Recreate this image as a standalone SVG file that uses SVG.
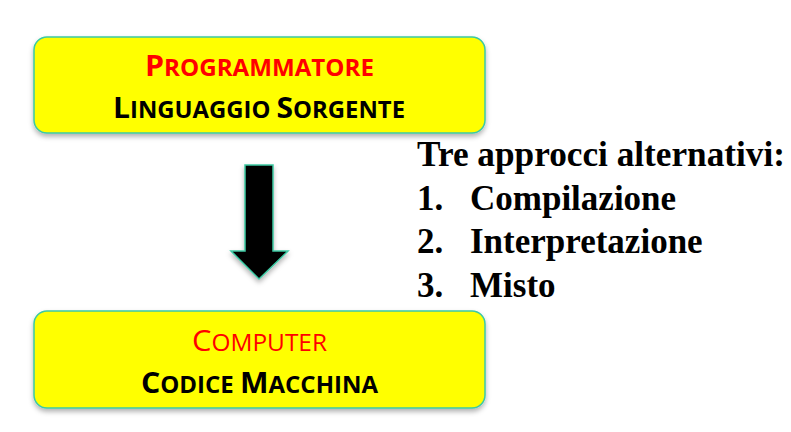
<svg xmlns="http://www.w3.org/2000/svg" width="791" height="432" viewBox="0 0 791 432">
  <style>
    .box { fill: #ffff00; stroke: #3cc9a3; stroke-width: 1.5; }
    .cap { font-family: "Open Sans", "Liberation Sans", sans-serif; }
    .red { fill: #ff0000; }
    .blk { fill: #000000; }
    .list { font-family: "Liberation Serif", "Times New Roman", serif; font-weight: bold; font-size: 35px; fill: #000; }
  </style>
  <defs>
    <filter id="sh" x="-10%" y="-20%" width="120%" height="150%">
      <feDropShadow dx="0" dy="3" stdDeviation="2.5" flood-color="#000" flood-opacity="0.3"/>
    </filter>
  </defs>

  <g id="node-programmatore">
    <rect class="box" x="34" y="37" width="451" height="96" rx="13" filter="url(#sh)"/>
    <text class="cap red" x="145" y="76" font-weight="bold" textLength="229" lengthAdjust="spacingAndGlyphs"><tspan font-size="29">P</tspan><tspan font-size="23">ROGRAMMATORE</tspan></text>
    <text class="cap blk" x="113" y="118" font-weight="bold" textLength="292" lengthAdjust="spacingAndGlyphs"><tspan font-size="29">L</tspan><tspan font-size="23">INGUAGGIO </tspan><tspan font-size="29">S</tspan><tspan font-size="23">ORGENTE</tspan></text>
  </g>

  <g id="node-computer">
    <rect class="box" x="34" y="311" width="451" height="97" rx="13" filter="url(#sh)"/>
    <text class="cap red" x="192" y="351" textLength="135" lengthAdjust="spacingAndGlyphs"><tspan font-size="29">C</tspan><tspan font-size="23">OMPUTER</tspan></text>
    <text class="cap blk" x="141" y="393" font-weight="bold" textLength="237" lengthAdjust="spacingAndGlyphs"><tspan font-size="29">C</tspan><tspan font-size="23">ODICE </tspan><tspan font-size="29">M</tspan><tspan font-size="23">ACCHINA</tspan></text>
  </g>

  <g id="connectors">
    <polygon points="245,165 273,165 273,251 288,251 259,279 231,251 245,251" fill="#000" stroke="#3cc9a3" stroke-width="1.5" filter="url(#sh)"/>
  </g>

  <g id="text-list">
    <text class="list" x="417" y="166" textLength="368" lengthAdjust="spacingAndGlyphs">Tre approcci alternativi:</text>
    <text class="list" x="417" y="210">1.</text>
    <text class="list" x="470" y="210">Compilazione</text>
    <text class="list" x="417" y="253">2.</text>
    <text class="list" x="470" y="253">Interpretazione</text>
    <text class="list" x="417" y="297">3.</text>
    <text class="list" x="470" y="297">Misto</text>
  </g>
</svg>
